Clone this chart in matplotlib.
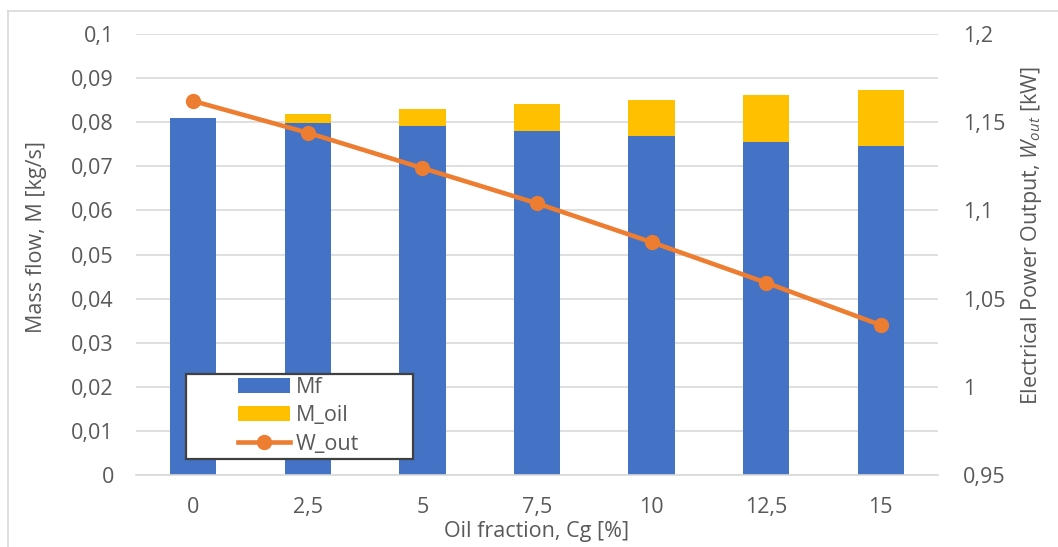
import matplotlib
matplotlib.use('Agg')
import matplotlib.pyplot as plt
from matplotlib.patches import Rectangle
from matplotlib.lines import Line2D
from matplotlib.ticker import FuncFormatter
import numpy as np

FS = 15.5

plt.rcParams.update({
    'font.family': ['Open Sans', 'DejaVu Sans'],
    'font.size': FS,
    'mathtext.fontset': 'custom',
    'mathtext.rm': 'Open Sans',
    'mathtext.it': 'Open Sans:italic',
    'text.color': '#595959',
    'xtick.color': '#595959',
    'ytick.color': '#595959',
})

# data
cg = [0, 2.5, 5, 7.5, 10, 12.5, 15]
m_f = [0.0809, 0.0799, 0.0791, 0.0779, 0.0768, 0.0756, 0.0745]
m_oil = [0.0, 0.0020, 0.0040, 0.0063, 0.0083, 0.0106, 0.0129]
w_out = [1.162, 1.144, 1.124, 1.104, 1.082, 1.059, 1.035]

BLUE = '#4472C4'
YELLOW = '#FFC000'
ORANGE = '#ED7D31'
GRID = '#D9D9D9'

W, H = 1058, 547
fig = plt.figure(figsize=(W / 100, H / 100), dpi=100)
ax = fig.add_axes([136 / W, 1 - 475 / H, (938 - 136) / W, (475 - 34) / H])
ax2 = ax.twinx()

x = np.arange(len(cg))
width = 0.405
bars_f = ax.bar(x, m_f, width, color=BLUE, label='Mf', zorder=2)
bars_o = ax.bar(x, m_oil, width, bottom=m_f, color=YELLOW, label='M_oil', zorder=2)
line, = ax2.plot(x, w_out, color=ORANGE, lw=3.3, marker='o', ms=10,
                 label='W_out', zorder=3)

comma = FuncFormatter(lambda v, p: f'{v:g}'.replace('.', ','))

ax.set_xlim(-0.5, len(cg) - 0.5)
ax.set_ylim(0, 0.1)
ax.set_yticks(np.arange(0, 0.1001, 0.01))
ax.yaxis.set_major_formatter(comma)
ax.set_xticks(x)
ax.set_xticklabels([f'{c:g}'.replace('.', ',') for c in cg])
ax.grid(axis='y', color=GRID, lw=1.2)
ax.set_axisbelow(True)

ax2.set_ylim(0.95, 1.2)
ax2.set_yticks(np.arange(0.95, 1.2001, 0.05))
ax2.yaxis.set_major_formatter(comma)

for a in (ax, ax2):
    for s in a.spines.values():
        s.set_visible(False)
ax.spines['bottom'].set_visible(True)
ax.spines['bottom'].set_color(GRID)
ax.spines['bottom'].set_linewidth(1.2)

ax.tick_params(axis='y', length=0, pad=16, labelsize=FS)
ax.tick_params(axis='x', length=0, pad=16, labelsize=FS)
ax2.tick_params(axis='y', length=0, pad=18, labelsize=FS)

fig.text(37 / W, 1 - 237 / H, 'Mass flow, M [kg/s]', rotation=90,
         ha='center', va='center', fontsize=FS)
fig.text(1031 / W, 1 - 236 / H, r'Electrical Power Output, $W_{out}$ [kW]',
         rotation=90, ha='center', va='center', fontsize=FS)
fig.text(537 / W, 1 - 531 / H, 'Oil fraction, Cg [%]', ha='center',
         va='center', fontsize=FS)

# legend box
ax2.add_patch(Rectangle((50 / 802, 16 / 441), 227 / 802, 85 / 441,
                        transform=ax2.transAxes, facecolor='white',
                        edgecolor='#404040', lw=1.6, zorder=4))
ax2.legend([bars_f, bars_o, line], ['Mf', 'M_oil', 'W_out'],
           loc='upper left', bbox_to_anchor=(102 / 802, (475 - 377) / 441),
           frameon=False, borderpad=0, borderaxespad=0, handlelength=2.4,
           handletextpad=0.3, labelspacing=0.34, fontsize=FS,
           labelcolor='#595959')

# chart area border
fig.add_artist(Line2D([8 / W, 8 / W], [0, 1 - 11 / H], color=GRID, lw=1.2))
fig.add_artist(Line2D([8 / W, 1], [1 - 11 / H, 1 - 11 / H], color=GRID, lw=1.2))

fig.savefig('out.png', dpi=100)
